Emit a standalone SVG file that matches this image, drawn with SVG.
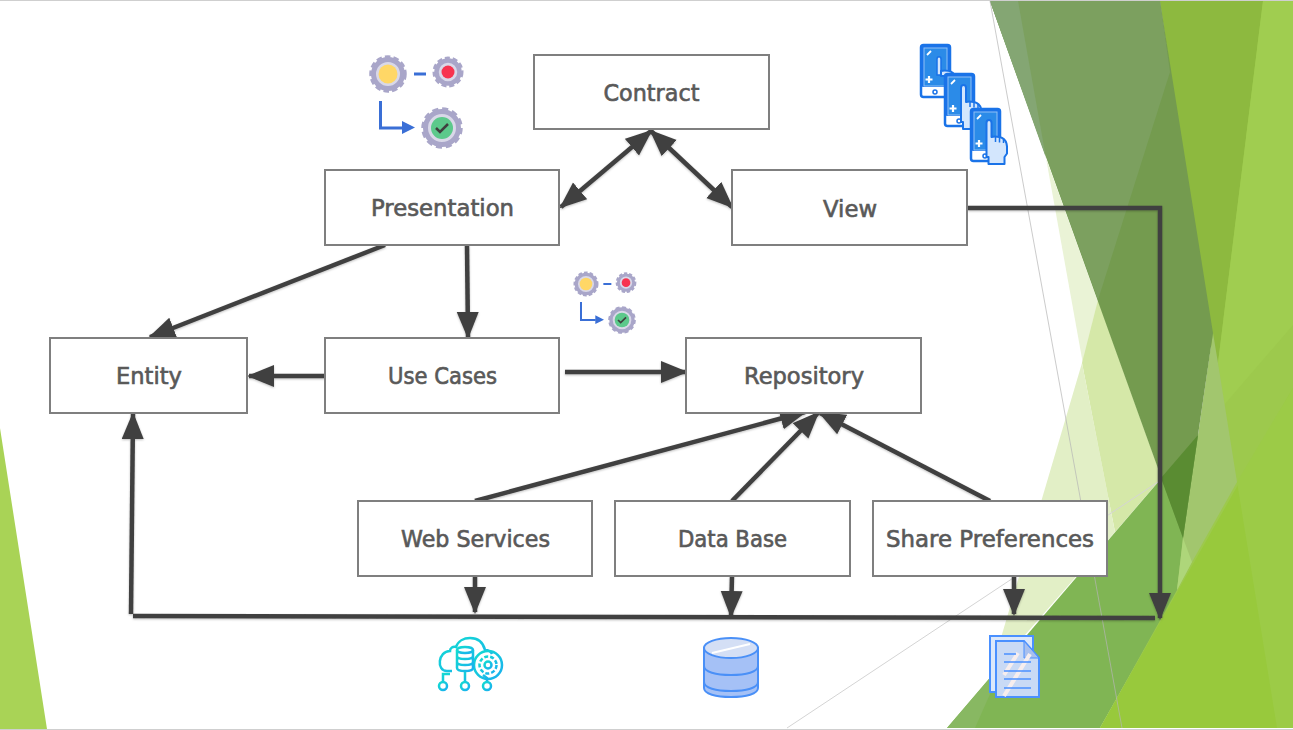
<svg xmlns="http://www.w3.org/2000/svg" xmlns:xlink="http://www.w3.org/1999/xlink" width="1293" height="730" viewBox="0 0 1293 730">
<style>
.box{fill:#fff;stroke:#7f7f7f;stroke-width:2}
.lbl{font-family:"DejaVu Sans","Liberation Sans",sans-serif;font-size:23px;font-weight:400;fill:#595959;text-anchor:middle;stroke:#595959;stroke-width:.65;lengthAdjust:spacingAndGlyphs}
.c{fill:none;stroke:#404040;stroke-width:4.500}
.one{marker-end:url(#ah)}
.two{marker-end:url(#ah);marker-start:url(#ah)}
.hand{fill:#d3e6fd;stroke:#1a73e8;stroke-width:2;stroke-linejoin:round}
.cy{fill:none;stroke:url(#cg);stroke-width:2.500}
.dbl{fill:#a5c1f6;stroke:#4a90f7;stroke-width:2}
</style>
<defs>
<filter id="sh" x="-2%" y="-2%" width="104%" height="104%"><feDropShadow dx="0" dy="1" stdDeviation="1" flood-color="#000" flood-opacity=".25"/></filter>
<marker id="ah" markerUnits="userSpaceOnUse" markerWidth="30" markerHeight="24" refX="25" refY="11" orient="auto-start-reverse"><path d="M0 0L27 11L0 22Z" fill="#404040"/></marker>
<linearGradient id="cg" x1="0" y1="0" x2="1" y2="1"><stop offset="0" stop-color="#12dcd0"/><stop offset="1" stop-color="#1aaff0"/></linearGradient>
<g id="gears">
<circle cx="388" cy="74" r="14.500" fill="#d9d8e8" stroke="#a9a6c9" stroke-width="5"/>
<circle cx="388" cy="74" r="17" fill="none" stroke="#a9a6c9" stroke-width="3.500" stroke-dasharray="5.500 3"/>
<circle cx="388" cy="74" r="9.500" fill="#ffd766"/>
<circle cx="448" cy="72" r="11.500" fill="#d9d8e8" stroke="#a9a6c9" stroke-width="4.500"/>
<circle cx="448" cy="72" r="14" fill="none" stroke="#a9a6c9" stroke-width="3" stroke-dasharray="5 2.800"/>
<circle cx="448" cy="72" r="6.500" fill="#f7334f"/>
<circle cx="442" cy="128" r="16.500" fill="#d9d8e8" stroke="#a9a6c9" stroke-width="5"/>
<circle cx="442" cy="128" r="19" fill="none" stroke="#a9a6c9" stroke-width="3.500" stroke-dasharray="6 3.900"/>
<circle cx="442" cy="128" r="11" fill="#5cc98b"/>
<path d="M436 128l4 4 8-8" fill="none" stroke="#3f3f3f" stroke-width="2.500"/>
<path d="M414 74h12" stroke="#3a6fd6" stroke-width="3" fill="none"/>
<path d="M380.500 101v27h22" stroke="#3a6fd6" stroke-width="3" fill="none"/>
<path d="M402 121l13 6.500-13 6.500z" fill="#3a6fd6"/>
</g>
<g id="phone">
<rect x="1" y="1" width="29" height="52" rx="2.500" fill="#fff" stroke="#1a73e8" stroke-width="2.500"/>
<rect x="1" y="1" width="29" height="42" rx="2" fill="#1a73e8"/>
<rect x="4" y="4" width="23" height="38" fill="#2b8be8" stroke="#8fc0f5" stroke-width="1"/>
<path d="M7 11l4-4" stroke="#fff" stroke-width="1.800"/>
<path d="M9 32v7M5.500 35.500h7" stroke="#fff" stroke-width="2.200"/>
<circle cx="15" cy="48" r="2" fill="#fff" stroke="#1a73e8" stroke-width="1.500"/>
</g>
<g id="hand">
<path d="M0 3c0-4 5-4 5 0v14c3-1 13-1 15 6.500l.500 3v7l-2.500 3.500v7H2v-7H0z" class="hand"/>
<path d="M9 17v5M13 17.500v5M17 19v4" stroke="#1a73e8" stroke-width="1.500" fill="none"/>
</g>
</defs>

<g id="background">
<rect width="1293" height="730" fill="#fff"/>
<path d="M0 428L47 729H0Z" fill="#a9d356"/>
<path d="M1046 158L1107 498L1158 482V468Z" fill="#eaf3d6"/>
<path d="M1098 300L1082 363L1115 532L1158 482V468Z" fill="#d5e8a8"/>
<path d="M1082 363L1115 532L990 675Z" fill="#e2efc6"/>
<path d="M947 728L1293 325V388L1100 728Z" fill="#80b554"/>
<path d="M947 728L1005 660L975 728Z" fill="#88b862"/>
<path d="M1160 1H1293V728H1100L1177 590L1213 333Z" fill="#9dc94d"/>
<path d="M1160 1H1263L1218 363H1213Z" fill="#8db93f"/>
<path d="M1263 1H1293V325L1224 405L1218 363Z" fill="#a0cd50"/>
<path d="M1100 728L1293 388V728Z" fill="#98c93c"/>
<path d="M1237 482L1293 388V728H1277Z" fill="#9ccb47"/>
<path d="M1213 333L1218 363L1237 482L1192 562L1177 590L1183 538L1198 435Z" fill="#a2c66e"/>
<path d="M1183 538L1192 562L1177 590Z" fill="#aed67a"/>
<path d="M990 1H1160L1213 333L1198 435L1183 538Z" fill="#749b4f"/>
<path d="M990 1H1160L1170 72L1098 300Z" fill="#7ca05f"/>
<path d="M990 1H1018L1046 158Z" fill="#84a673"/>
<path d="M1161 478L1198 435L1183 538Z" fill="#5a8c32"/>
<path d="M990 1L1122 728" stroke="#b5b5b5" fill="none" opacity=".7"/>
<path d="M787 728L1158 482" stroke="#d4d4d4" fill="none"/>
<path d="M0 .5H1293M0 729.500H1293" stroke="#cfcfcf" fill="none"/>
</g>

<g id="connectors" filter="url(#sh)">
<path class="c two" d="M651 131L561 207"/>
<path class="c two" d="M651 131L732 207"/>
<path class="c one" d="M968 208H1160V618"/>
<path class="c one" d="M385 245L150 337"/>
<path class="c one" d="M467 245L468 337"/>
<path class="c one" d="M325 376H249"/>
<path class="c one" d="M565 372H686"/>
<path class="c one" d="M475 501L805 412"/>
<path class="c one" d="M732 501L818 413"/>
<path class="c one" d="M990 501L820 413"/>
<path class="c one" d="M475 576V612"/>
<path class="c one" d="M732 576L731 616"/>
<path class="c one" d="M1014 576V614"/>
<path class="c" d="M133 616L1155 618"/>
<path class="c one" d="M131 614L133 414"/>
</g>

<g id="contract"><rect class="box" x="534" y="55" width="235" height="74"/><text class="lbl" x="651.500" y="101" textLength="96" lengthAdjust="spacingAndGlyphs">Contract</text></g>
<g id="presentation"><rect class="box" x="325" y="170" width="234" height="75"/><text class="lbl" x="442.500" y="216" textLength="143" lengthAdjust="spacingAndGlyphs">Presentation</text></g>
<g id="view"><rect class="box" x="732" y="170" width="235" height="75"/><text class="lbl" x="850" y="217" textLength="54" lengthAdjust="spacingAndGlyphs">View</text></g>
<g id="entity"><rect class="box" x="50" y="338" width="197" height="75"/><text class="lbl" x="149" y="384" textLength="66" lengthAdjust="spacingAndGlyphs">Entity</text></g>
<g id="use-cases"><rect class="box" x="325" y="338" width="234" height="75"/><text class="lbl" x="442.500" y="384" textLength="109" lengthAdjust="spacingAndGlyphs">Use Cases</text></g>
<g id="repository"><rect class="box" x="686" y="338" width="235" height="75"/><text class="lbl" x="804" y="384" textLength="120" lengthAdjust="spacingAndGlyphs">Repository</text></g>
<g id="web-services"><rect class="box" x="358" y="501" width="234" height="75"/><text class="lbl" x="475.500" y="547" textLength="149" lengthAdjust="spacingAndGlyphs">Web Services</text></g>
<g id="data-base"><rect class="box" x="615" y="501" width="235" height="75"/><text class="lbl" x="732.500" y="547" textLength="109" lengthAdjust="spacingAndGlyphs">Data Base</text></g>
<g id="share-preferences"><rect class="box" x="873" y="501" width="234" height="75"/><text class="lbl" x="990" y="547" textLength="208" lengthAdjust="spacingAndGlyphs">Share Preferences</text></g>

<g id="icon-gears-top"><use xlink:href="#gears"/></g>
<g id="icon-gears-repo"><use xlink:href="#gears" transform="translate(586 284) scale(.667) translate(-388 -74)"/></g>
<g id="icon-phones">
<use xlink:href="#phone" transform="translate(920 44)"/>
<path d="M937 59c0-3 4-3 4 0v16h-4z" fill="#d3e6fd" stroke="#1a73e8" stroke-width="1.500"/>
<path d="M941 71c3-1 12-1 14 5h-14z" class="hand"/>
<use xlink:href="#phone" transform="translate(944 73)"/>
<use xlink:href="#hand" transform="translate(961 85)"/>
<use xlink:href="#phone" transform="translate(970 108)"/>
<use xlink:href="#hand" transform="translate(986.500 120)"/>
</g>
<g id="icon-cloud">
<path class="cy" d="M452 671h-5c-11 0-9-20 3-20 0-3 3-5 6-4 2-6 8-9 14-9 8 0 13 4 15 12 3 0 6 2 7 4"/>
<circle class="cy" cx="488" cy="665" r="14"/>
<circle class="cy" cx="488" cy="665" r="8.500" stroke-dasharray="4 2"/>
<circle class="cy" cx="488" cy="665" r="3.500"/>
<ellipse class="cy" cx="465" cy="650" rx="8" ry="3"/>
<path class="cy" d="M457 650v18c0 4 16 4 16 0v-18M457 656c0 4 16 4 16 0M457 662c0 4 16 4 16 0"/>
<path class="cy" d="M465 672v10M443 682v-8h7M487 682v-4l-4-3"/>
<circle class="cy" cx="443" cy="686" r="4"/>
<circle class="cy" cx="465" cy="686" r="4"/>
<circle class="cy" cx="487" cy="686" r="4"/>
</g>
<g id="icon-database">
<path class="dbl" d="M704 682v6c0 6 12 9 27 9s27-3 27-9v-6z"/>
<path class="dbl" d="M704 666v16c0 6 12 9 27 9s27-3 27-9v-16z"/>
<path class="dbl" d="M704 648v18c0 6 12 9 27 9s27-3 27-9v-18z"/>
<ellipse cx="731" cy="648" rx="27" ry="10" fill="#d4dff5" stroke="#4a90f7" stroke-width="2"/>
<path d="M712 653l38-9" stroke="#fff" stroke-width="2" fill="none"/>
</g>
<g id="icon-document">
<rect x="990" y="636" width="43" height="56" fill="#dce8fa" stroke="#4a90ff" stroke-width="2"/>
<path d="M996 641h28l15 17v39h-43z" fill="#c9daf5" stroke="#4a90ff" stroke-width="2"/>
<path d="M1024 641v17h15z" fill="#a8c0ee" stroke="#4a90ff" stroke-width="1"/>
<path d="M1004 675l14-22M1004 696l26-42" stroke="#f7eeee" stroke-width="4" fill="none"/>
<path d="M1004 654h12M1004 662h27M1004 671h27M1004 679h27M1004 688h27" stroke="#4a90ff" stroke-width="1.500" fill="none"/>
</g>
</svg>
